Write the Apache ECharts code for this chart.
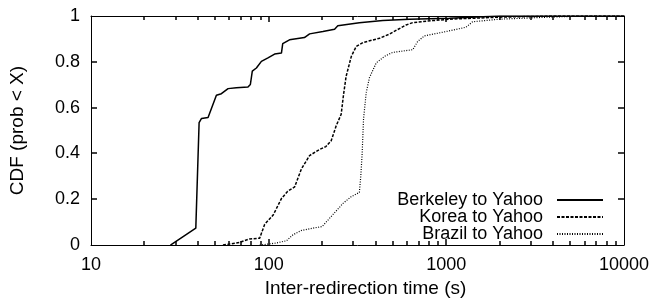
<!DOCTYPE html>
<html lang="en">
<head>
  <meta charset="UTF-8">
  <title>Inter-redirection time CDF</title>
  <script src="https://cdn.jsdelivr.net/npm/echarts@6/dist/echarts.min.js"></script>
</head>
<body style="margin:0">
  <div id="main" style="width:652px;height:303px;"></div>
  <script type="text/javascript">
    // CDF points: x = seconds, y = fraction
    const berkeleyX = [28, 38.9, 40.6, 41.9, 45.6, 50.8, 54.2, 59.1, 65.8, 76.5, 78.9, 80.9, 85.3, 91, 99.1, 108, 118, 120, 131, 159, 170, 202, 235, 245, 324, 439, 620, 1040, 2000, 10000];
    const berkeleyY = [0, 0.074, 0.535, 0.553, 0.557, 0.654, 0.661, 0.683, 0.687, 0.690, 0.701, 0.759, 0.773, 0.802, 0.817, 0.834, 0.838, 0.879, 0.896, 0.906, 0.922, 0.932, 0.942, 0.957, 0.971, 0.980, 0.986, 0.990, 1, 1];

    const koreaX = [55.3, 68.7, 78.2, 89, 95, 106, 118, 128, 140, 153, 170, 193, 210, 225, 240, 256, 264, 273, 292, 311, 339, 421, 479, 521, 594, 647, 838, 1040, 1986, 4000, 10000];
    const koreaY = [0, 0.012, 0.027, 0.030, 0.091, 0.131, 0.203, 0.235, 0.254, 0.333, 0.391, 0.417, 0.430, 0.456, 0.521, 0.571, 0.658, 0.737, 0.824, 0.867, 0.884, 0.903, 0.921, 0.937, 0.961, 0.971, 0.980, 0.986, 0.995, 1, 1];

    const brazilX = [89, 110, 126, 137, 153, 178, 200, 222, 262, 291, 324, 330, 336, 342, 354, 369, 403, 449, 499, 647, 690, 752, 995, 1291, 1406, 1986, 3793, 6000, 10000];
    const brazilY = [0, 0.009, 0.019, 0.045, 0.064, 0.074, 0.081, 0.120, 0.182, 0.211, 0.230, 0.300, 0.400, 0.550, 0.665, 0.730, 0.795, 0.824, 0.841, 0.853, 0.889, 0.913, 0.932, 0.951, 0.975, 0.986, 0.995, 1, 1];

    // tick positions (axis values) for the inward ticks on all four edges
    const xMajorTicks = [100, 1000];
    const xMinorTicks = [20, 30, 40, 50, 60, 70, 80, 90, 200, 300, 400, 500, 600, 700, 800, 900, 2000, 3000, 4000, 5000, 6000, 7000, 8000, 9000];
    const yTicks = [0.2, 0.4, 0.6, 0.8];

    const font = "'Liberation Sans', Arial, sans-serif";
    const zip = (xs, ys) => xs.map((x, i) => [x, ys[i]]);

    const lineSeries = (name, xs, ys, type, width) => ({
      name: name,
      type: 'line',
      data: zip(xs, ys),
      symbol: 'none',
      lineStyle: { color: '#000', width: width, type: type },
      itemStyle: { color: '#000' },
      z: 3
    });

    const frameAxis = () => ({
      axisLine: { show: true, onZero: false, lineStyle: { color: '#000', width: 1 } },
      axisTick: { show: false },
      splitLine: { show: false }
    });

    const tick = (x1, y1, x2, y2) => ({
      type: 'line',
      shape: { x1: x1, y1: y1, x2: x2, y2: y2 },
      style: { stroke: '#000', lineWidth: 1.5 }
    });

    // x ticks on bottom and top edge, data = [xValue, 0.5]
    const xTickSeries = (values, len) => ({
      type: 'custom', silent: true, clip: false, z: 10,
      data: values.map(v => [v, 0.5]),
      renderItem: (params, api) => {
        const b = api.coord([api.value(0), 0]);
        const t = api.coord([api.value(0), 1]);
        const x = Math.round(b[0]);
        return {
          type: 'group',
          children: [tick(x, b[1], x, b[1] - len), tick(x, t[1], x, t[1] + len)]
        };
      }
    });

    // y ticks on left and right edge, data = [100, yValue]
    const yTickSeries = (values, len) => ({
      type: 'custom', silent: true, clip: false, z: 10,
      data: values.map(v => [100, v]),
      renderItem: (params, api) => {
        const l = api.coord([10, api.value(1)]);
        const r = api.coord([10000, api.value(1)]);
        const y = Math.round(l[1]);
        return {
          type: 'group',
          children: [tick(l[0], y, l[0] + len, y), tick(r[0], y, r[0] - len, y)]
        };
      }
    });

    let options = {
      animation: false,
      grid: { left: 91, right: 27, top: 16, bottom: 56 },
      legend: {
        data: ['Berkeley to Yahoo', 'Korea to Yahoo', 'Brazil to Yahoo'],
        orient: 'vertical',
        align: 'right',
        right: 43,
        top: 186,
        itemGap: -1,
        itemWidth: 46,
        itemHeight: 10,
        itemStyle: { opacity: 0 },
        textStyle: { fontFamily: font, fontSize: 18, color: '#000', lineHeight: 17, padding: [0, 9, 0, 0] }
      },
      xAxis: [
        Object.assign({
          type: 'log', min: 10, max: 10000, logBase: 10,
          name: 'Inter-redirection time (s)', nameLocation: 'middle', nameGap: 33,
          nameTextStyle: { fontFamily: font, fontSize: 19, color: '#000', padding: [0, 0, 0, 16] },
          axisLabel: { fontFamily: font, fontSize: 18, color: '#000', margin: 11, formatter: v => String(v) }
        }, frameAxis()),
        Object.assign({
          type: 'log', min: 10, max: 10000, logBase: 10, position: 'top',
          axisLabel: { show: false }
        }, frameAxis())
      ],
      yAxis: [
        Object.assign({
          type: 'value', min: 0, max: 1, interval: 0.2,
          name: 'CDF (prob < X)', nameLocation: 'middle', nameGap: 64,
          nameTextStyle: { fontFamily: font, fontSize: 19, color: '#000' },
          axisLabel: { fontFamily: font, fontSize: 18, color: '#000', margin: 11 }
        }, frameAxis()),
        Object.assign({
          type: 'value', min: 0, max: 1, interval: 0.2, position: 'right',
          axisLabel: { show: false }
        }, frameAxis())
      ],
      series: [
        lineSeries('Berkeley to Yahoo', berkeleyX, berkeleyY, 'solid', 1.5),
        lineSeries('Korea to Yahoo', koreaX, koreaY, [3, 1.5], 1.5),
        lineSeries('Brazil to Yahoo', brazilX, brazilY, [1, 1.5], 1.2),
        xTickSeries(xMajorTicks, 6),
        xTickSeries(xMinorTicks, 4),
        yTickSeries(yTicks, 6)
      ]
    };

    let myChart = echarts.init(document.getElementById('main'));
    myChart.setOption(options);
  </script>
</body>
</html>
